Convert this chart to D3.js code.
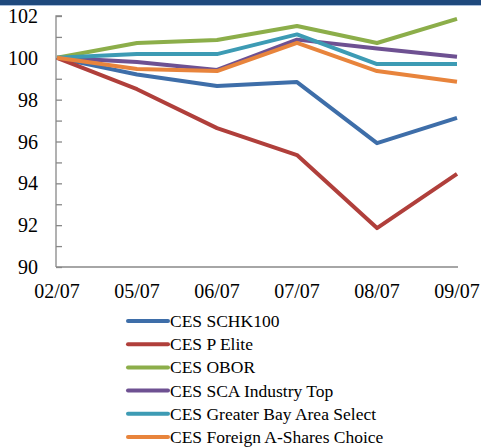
<!DOCTYPE html>
<html>
<head>
<meta charset="utf-8">
<script src="https://cdnjs.cloudflare.com/ajax/libs/d3/7.8.5/d3.min.js"></script>
</head>
<body style="margin:0">
<svg id="chart" width="482" height="305" style="display:block"></svg>
<svg id="legend" width="482" height="143" style="display:block"></svg>
<script>
// Data
const dates = ["02/07", "05/07", "06/07", "07/07", "08/07", "09/07"];
const seriesNames = [
  "CES SCHK100",
  "CES P Elite",
  "CES OBOR",
  "CES SCA Industry Top",
  "CES Greater Bay Area Select",
  "CES Foreign A-Shares Choice"
];
const schk100 = [100, 99.2, 98.65, 98.84, 95.92, 97.13];
const pElite = [100, 98.5, 96.64, 95.35, 91.86, 94.45];
const obor = [100, 100.71, 100.85, 101.52, 100.71, 101.86];
const scaTop = [100, 99.8, 99.42, 100.87, 100.45, 100.05];
const greaterBay = [100, 100.18, 100.18, 101.12, 99.7, 99.7];
const foreignA = [100, 99.47, 99.37, 100.72, 99.37, 98.86];
const yTickLabels = [90, 92, 94, 96, 98, 100, 102];
const colors = ["#3e6ea9", "#b03f3b", "#8cae4a", "#6e5192", "#3d9bb4", "#e8843c"];

const seriesValues = [schk100, pElite, obor, scaTop, greaterBay, foreignA];

const chartW = 482;
const marginLeft = 56;
const marginRight = 24;
const marginTop = 16;
const plotBottom = 267;
const legendTop = 305;
const fontFam = "Liberation Serif";

const svg = d3.select("#chart");

// Header bar
svg.append("rect")
  .attr("x", 0).attr("y", 0)
  .attr("width", 481).attr("height", 5)
  .attr("fill", "#1f497d");
svg.append("line")
  .attr("x1", 0).attr("x2", 481)
  .attr("y1", 5.5).attr("y2", 5.5)
  .attr("stroke", "#a9bedb").attr("stroke-width", 1);

// Scales
const xScale = d3.scalePoint()
  .domain(dates)
  .range([marginLeft + 1, chartW - marginRight - 1])
  .padding(0);

const yScale = d3.scaleLinear()
  .domain([90, 102])
  .range([plotBottom, marginTop]);

// Y axis: minor ticks every unit, labels every 2
const yAxis = svg.append("g")
  .attr("transform", `translate(${marginLeft},0)`)
  .call(d3.axisRight(yScale).tickValues(d3.range(90, 103, 1)).tickSize(6).tickFormat(""));
yAxis.select(".domain").attr("stroke", "#888").attr("stroke-width", 1.3)
  .attr("d", `M6,${marginTop}H0V${plotBottom}`);
yAxis.selectAll(".tick line").attr("stroke", "#888").attr("stroke-width", 1.3);

svg.append("g")
  .selectAll("text")
  .data(yTickLabels)
  .join("text")
  .attr("x", 38)
  .attr("y", d => yScale(d) + 7)
  .attr("text-anchor", "end")
  .attr("font-family", fontFam)
  .attr("font-size", 20)
  .attr("fill", "#000")
  .text(d => d);

// X axis line and labels
svg.append("path")
  .attr("d", `M${marginLeft},${plotBottom}H${chartW - marginRight}`)
  .attr("stroke", "#888").attr("stroke-width", 1.3);

svg.append("g")
  .selectAll("text")
  .data(dates)
  .join("text")
  .attr("x", d => xScale(d))
  .attr("y", plotBottom + 31)
  .attr("text-anchor", "middle")
  .attr("font-family", fontFam)
  .attr("font-size", 20)
  .attr("fill", "#000")
  .text(d => d);

// Lines
const lineGen = d3.line()
  .x((d, i) => xScale(dates[i]))
  .y(d => yScale(d));

svg.append("g")
  .selectAll("path")
  .data(seriesValues)
  .join("path")
  .attr("fill", "none")
  .attr("stroke", (d, i) => colors[i])
  .attr("stroke-width", 4)
  .attr("stroke-linejoin", "round")
  .attr("d", lineGen);

// Legend in its own svg, continuing the same page coordinates
const legend = d3.select("#legend").append("g")
  .selectAll("g")
  .data(seriesNames)
  .join("g")
  .attr("transform", (d, i) => `translate(127,${321 - legendTop + i * 23.2})`);

legend.append("line")
  .attr("x1", 1).attr("x2", 41)
  .attr("stroke", (d, i) => colors[i])
  .attr("stroke-width", 4)
  .attr("stroke-linecap", "round");

legend.append("text")
  .attr("x", 43)
  .attr("y", 6)
  .attr("font-family", fontFam)
  .attr("font-size", 17.5)
  .attr("fill", "#000")
  .text(d => d);
</script>
</body>
</html>
